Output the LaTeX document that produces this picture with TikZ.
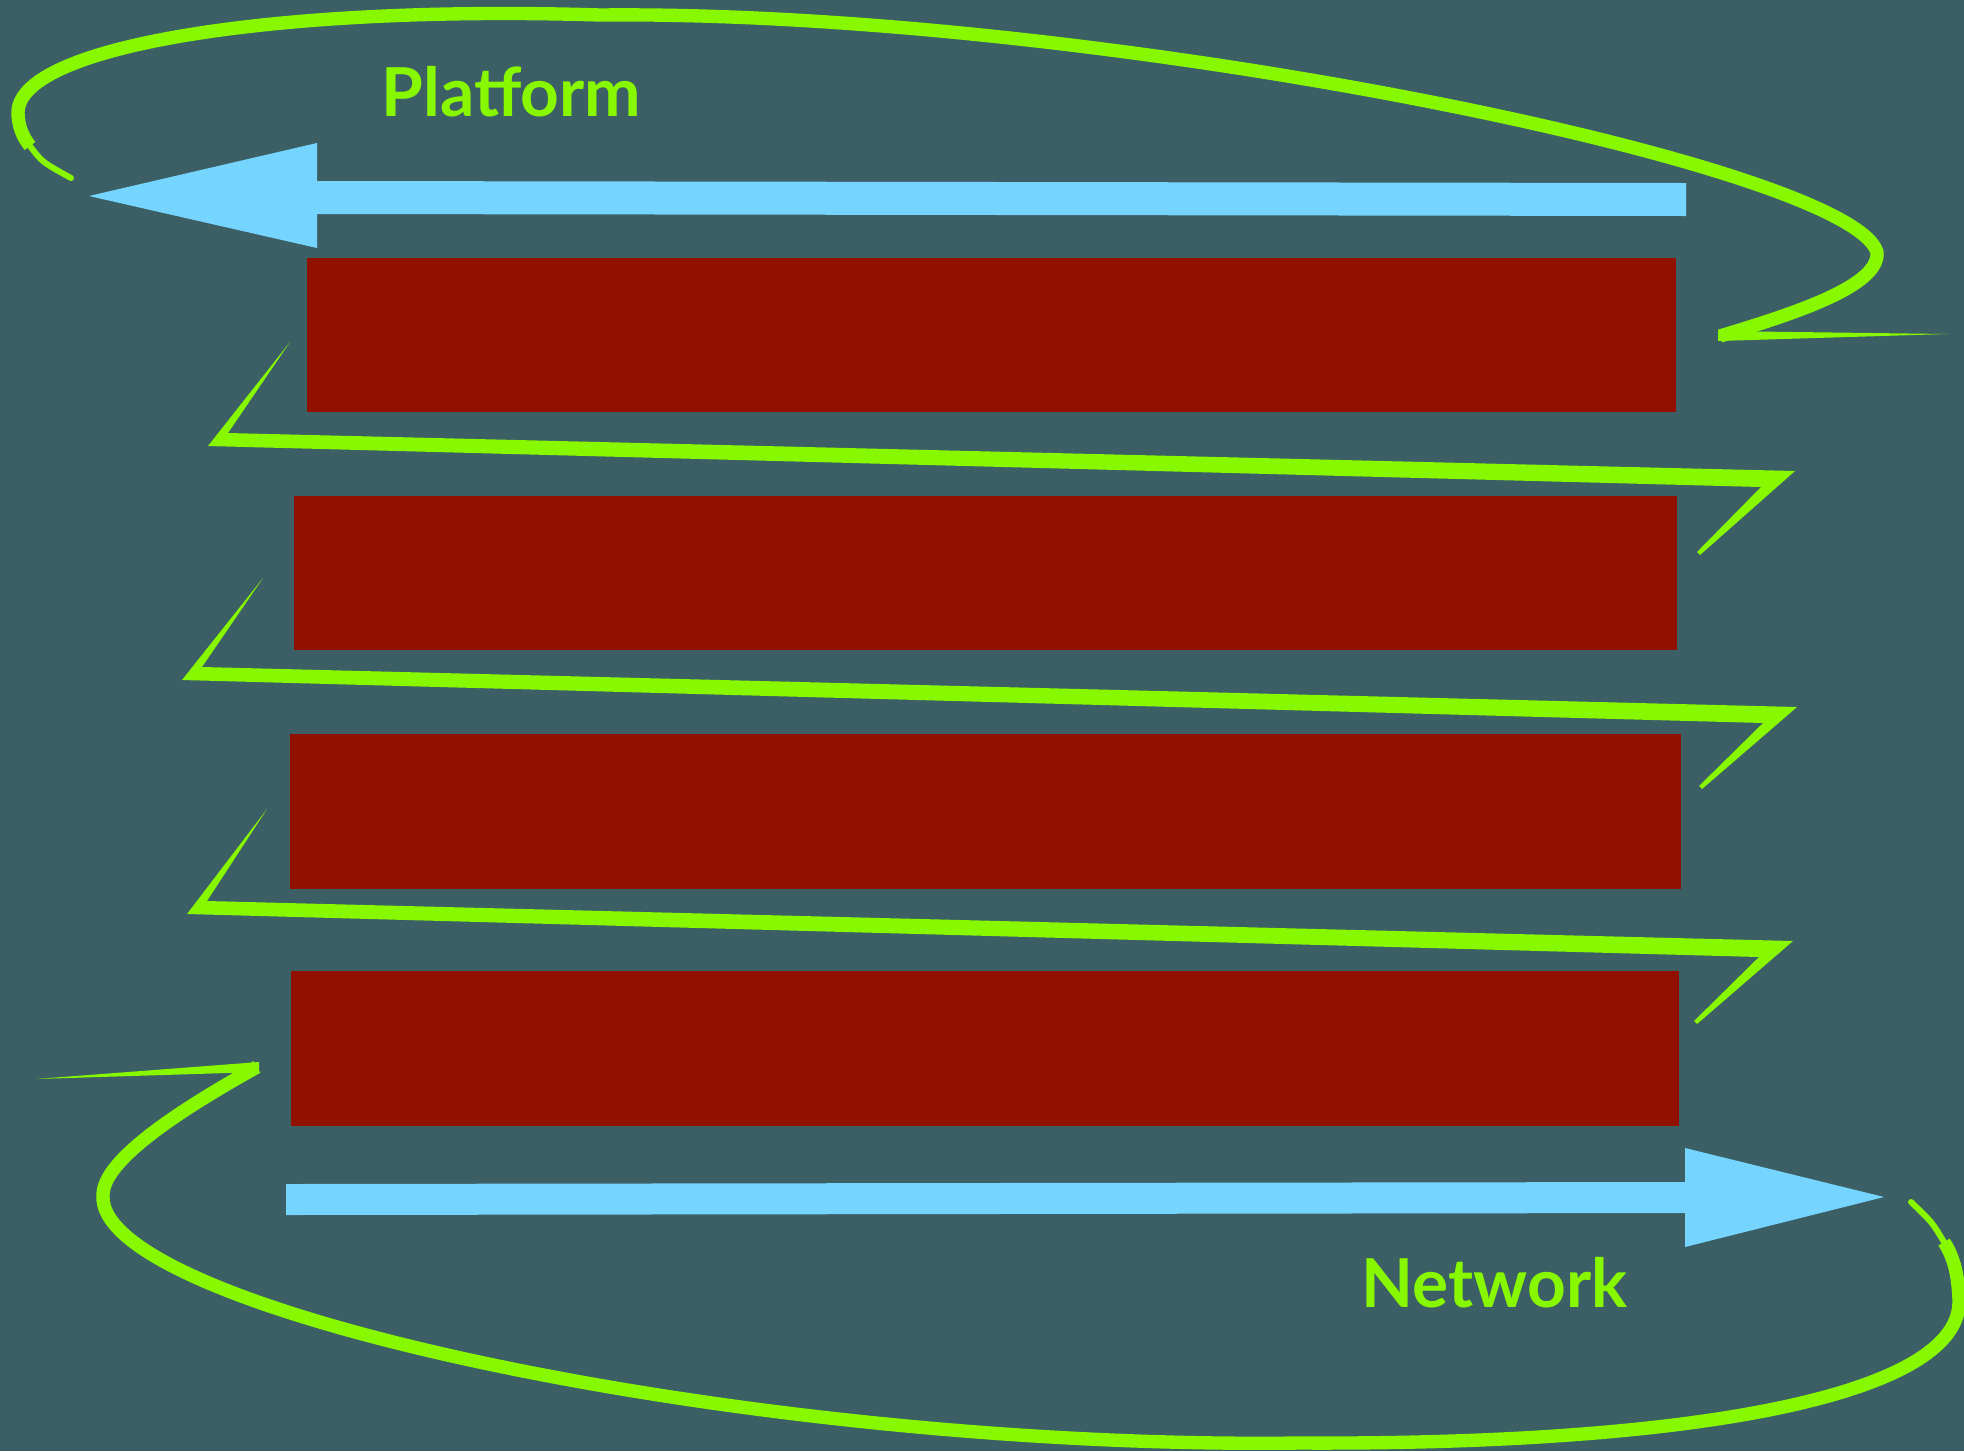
\documentclass[tikz,border=0pt]{standalone}
\usepackage{fontspec}
\setmainfont{Lato}
\usepackage{tikz}
\usetikzlibrary{calc,positioning}
\definecolor{slate}{HTML}{3B5F65}
\definecolor{brick}{HTML}{921000}
\definecolor{sky}{HTML}{76D5FF}
\definecolor{lime}{HTML}{88F800}
\tikzset{
  layer/.style={rectangle, fill=brick, draw=none, inner sep=0pt, minimum height=1.54cm},
  flow/.style={fill=sky},
  spiral/.style={draw=lime, line width=3.8pt, line join=round},
  spiraltip/.style={draw=lime, line width=1.7pt, line cap=round},
  taper/.style={fill=lime},
  tag/.style={text=lime, font=\fontsize{19.2}{21}\selectfont\bfseries, inner sep=0pt, anchor=base west}
}
% start, left corner, right corner, end
\newcommand{\zigzag}[4]{%
  \fill[taper] #1 -- #2 -- ($#3+(-34,16)$) -- #4 -- ($#4+(3,3)$) -- #3 -- ($#2+(20,-13)$) -- cycle;}

\begin{document}
\begin{tikzpicture}[x=0.01cm, y=-0.01cm]
    \useasboundingbox (0,0) rectangle (1964,1451);
    \fill[slate] (0,0) rectangle (1964,1451);
    % layers
    \node (layerA) [layer, minimum width=13.69cm] at (991.5,335) {};
    \node (layerB) [layer, minimum width=13.83cm] at (985.5,573) {};
    \node (layerC) [layer, minimum width=13.91cm] at (985.5,811.5) {};
    \node (layerD) [layer, minimum width=13.88cm] at (985,1048.5) {};
    % labels
    \node (platform) [tag] at (381,116) {Platform};
    \node (network)  [tag] at (1361,1307) {Network};
    % flow arrows
    \fill[flow] (1686,183) -- (317,181) -- (317,143) -- (89,196) -- (317,248) -- (317,214) -- (1686,216) -- cycle;
    \fill[flow] (286,1184) -- (1685,1182) -- (1685,1148) -- (1884,1197) -- (1685,1247) -- (1685,1213) -- (286,1215) -- cycle;
    % top loop
    \fill[taper] (1947,334) -- (1718,331) -- (1718,341) -- cycle;
    \draw[spiral] (1720,336) .. controls (1800,312) and (1880,285) .. (1877,252)
                  .. controls (1850,165) and (1100,10) .. (600,15)
                  .. controls (280,5) and (20,45) .. (18,112)
                  .. controls (18,125) and (22,136) .. (30,146);
    \draw[spiraltip] (30,146) .. controls (42,162) .. (71,178);
    % zigzags
    \zigzag{(290,342)}{(208,446)}{(1795,471)}{(1697,552)}
    \zigzag{(263,578)}{(182,680)}{(1797,707)}{(1699,786)}
    \zigzag{(267,809)}{(187,914)}{(1793,941)}{(1694,1021)}
    % bottom loop
    \fill[taper] (36,1079) -- (259,1062) -- (259,1072) -- cycle;
    \draw[spiral] (257,1067) .. controls (180,1110) and (103,1160) .. (103,1195)
                  .. controls (95,1310) and (750,1450) .. (1300,1443)
                  .. controls (1720,1445) and (1962,1390) .. (1959,1300)
                  .. controls (1958,1272) and (1953,1256) .. (1944,1242);
    \draw[spiraltip] (1944,1242) .. controls (1932,1222) .. (1911,1202);
\end{tikzpicture}
\end{document}
